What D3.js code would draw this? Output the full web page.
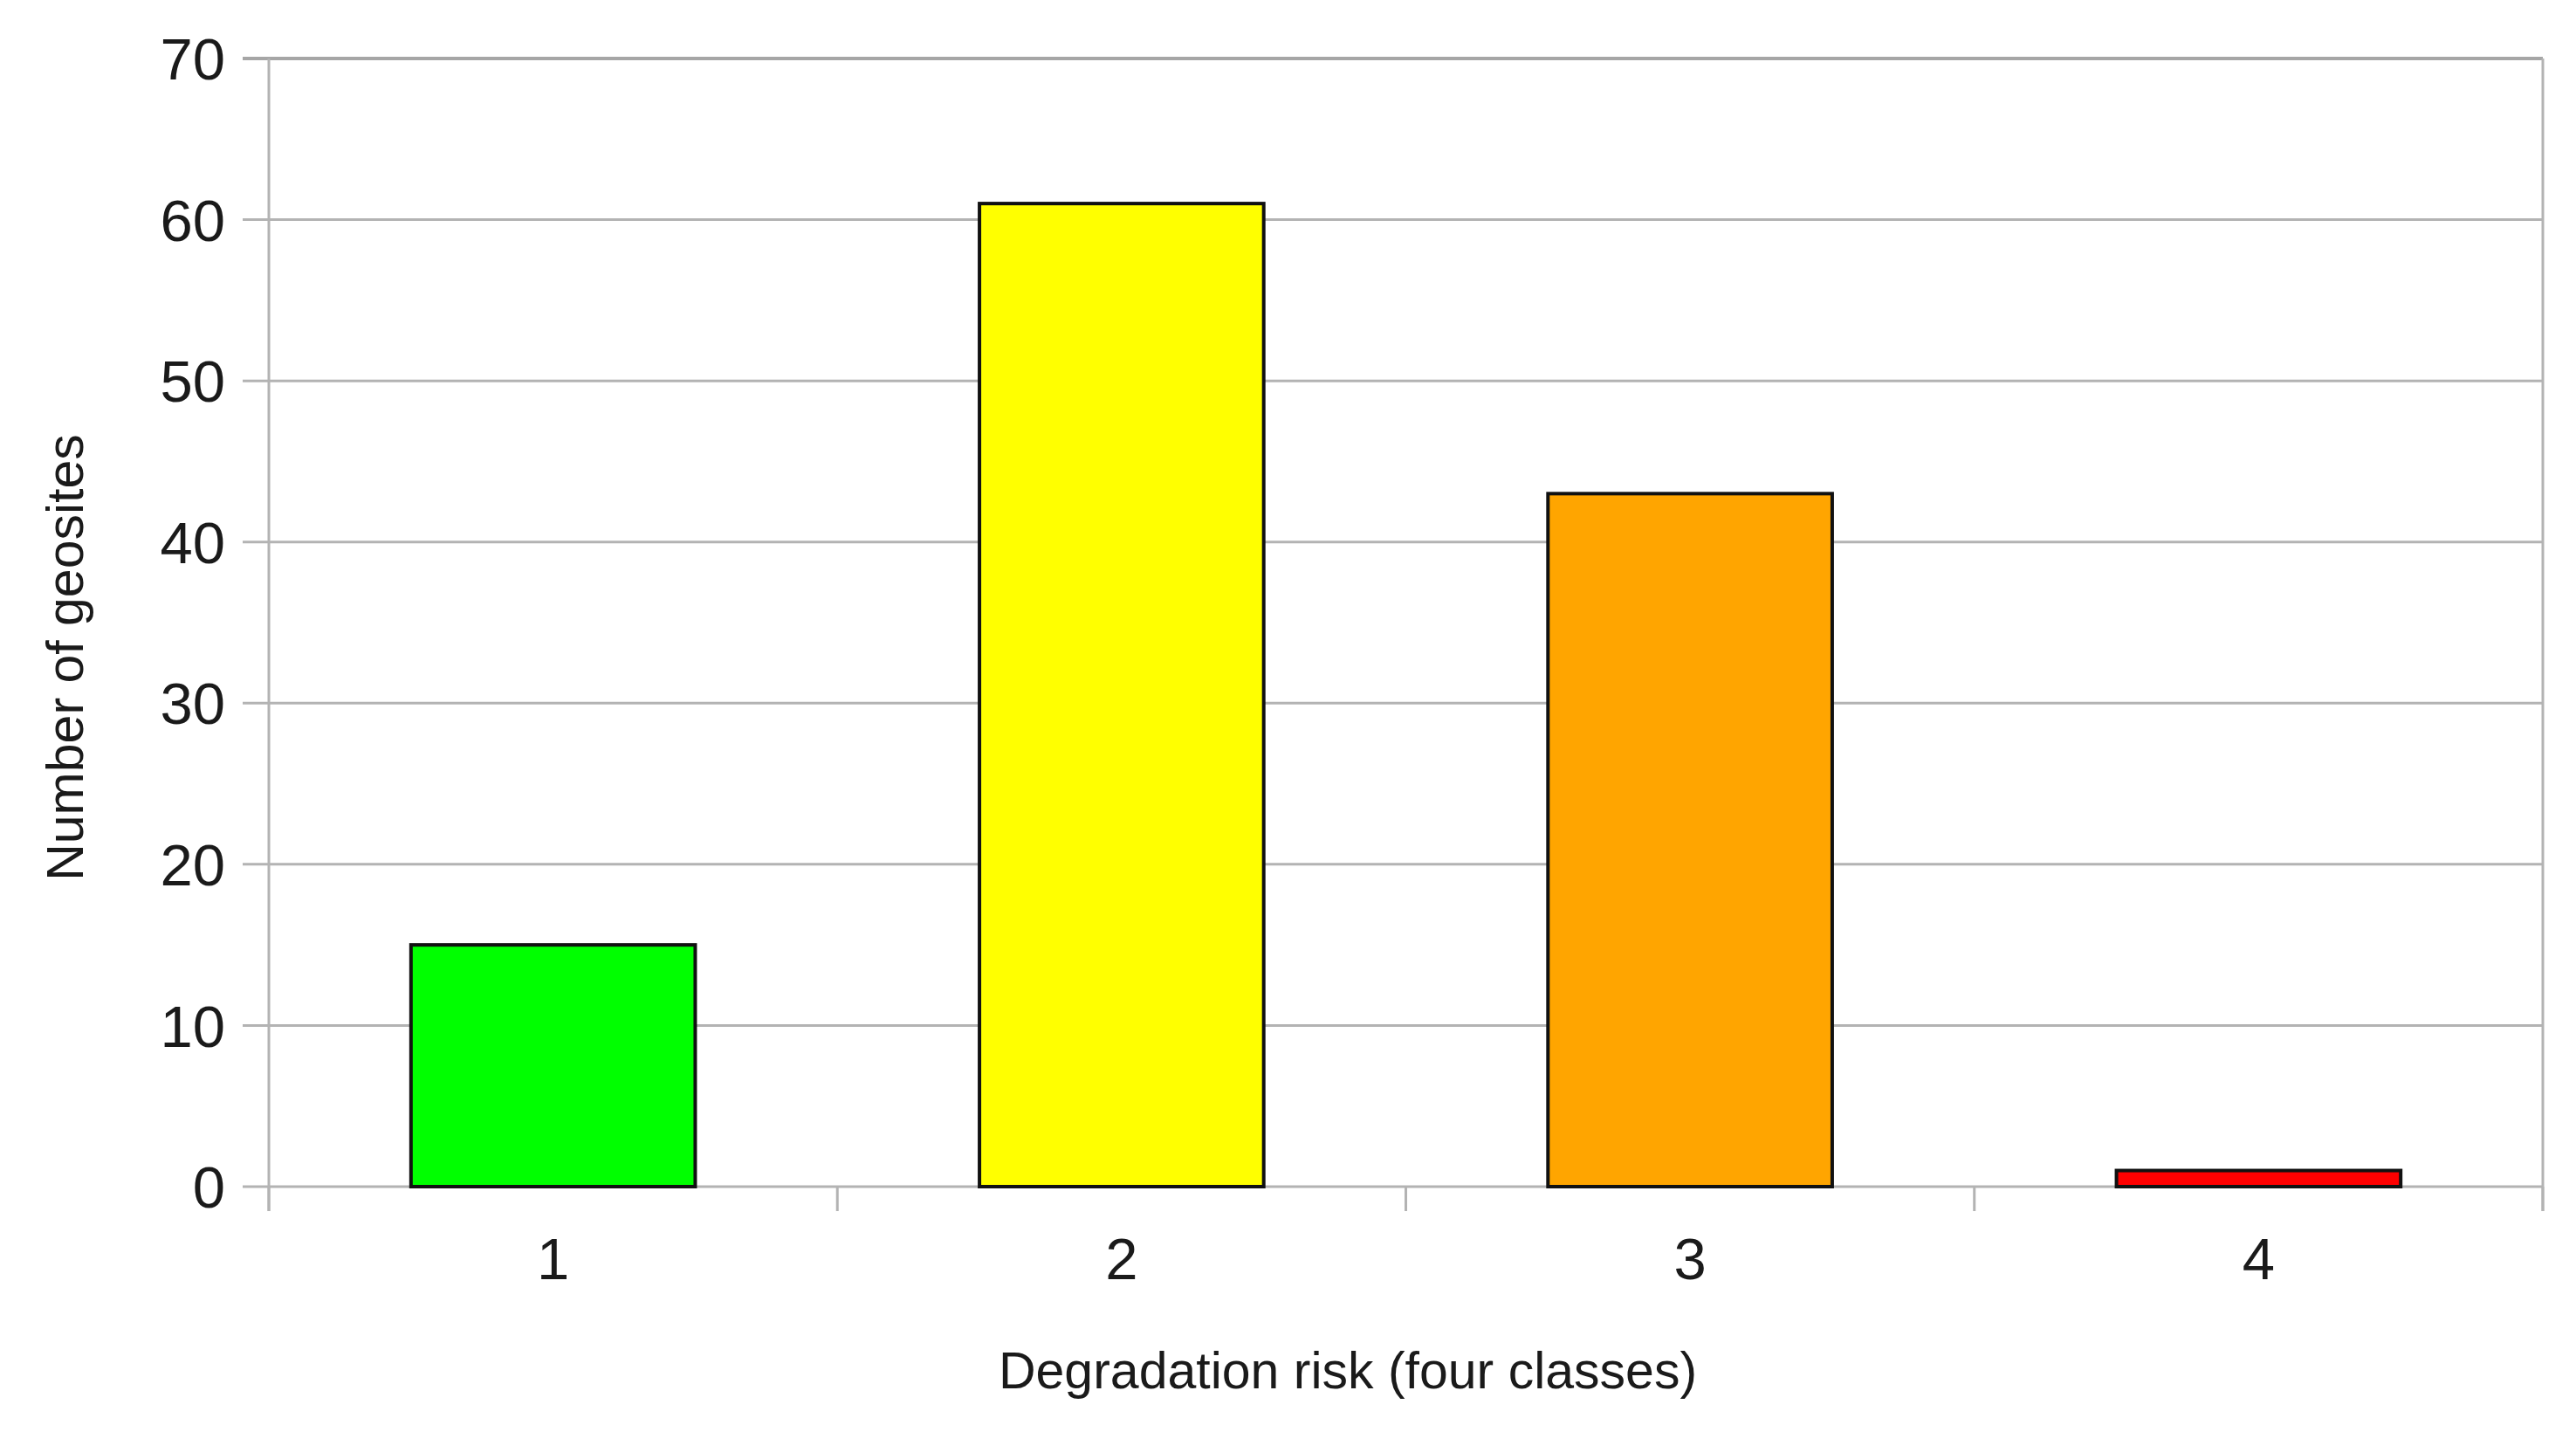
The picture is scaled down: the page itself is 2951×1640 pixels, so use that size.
<!DOCTYPE html>
<html><head><meta charset="utf-8">
<script src="https://cdn.jsdelivr.net/npm/d3@7"></script>
<style>html,body{margin:0;padding:0;background:#fff;}</style>
</head><body>
<script>
const categories = ["1", "2", "3", "4"];
const values = [15, 61, 43, 1];
const barColors = ["#00ff00", "#ffff00", "#ffa500", "#ff0000"];
const yTicks = [0, 10, 20, 30, 40, 50, 60, 70];
const xTitle = "Degradation risk (four classes)";
const yTitle = "Number of geosites";

const W = 2951, H = 1640;
const L = 308, R = 2913, T = 67, B = 1359;
const font = "'Liberation Sans', Arial, sans-serif";
const grid = "#b3b3b3";

const svg = d3.select("body").append("svg").attr("width", W).attr("height", H)
  .style("font-family", font);

const x = d3.scaleBand().domain(categories).range([L, R]).paddingInner(0.5).paddingOuter(0.25);
const y = d3.scaleLinear().domain([0, 70]).range([B, T]);

// gridlines
svg.append("g").selectAll("line").data(yTicks).join("line")
  .attr("x1", L - 30).attr("x2", R)
  .attr("y1", d => y(d)).attr("y2", d => y(d))
  .attr("stroke", d => d === 70 ? "#a6a6a6" : grid).attr("stroke-width", d => d === 70 ? 4 : 3);

// left and right axis lines
svg.append("line").attr("x1", L).attr("x2", L).attr("y1", T).attr("y2", B + 28)
  .attr("stroke", grid).attr("stroke-width", 3);
svg.append("line").attr("x1", R).attr("x2", R).attr("y1", T).attr("y2", B + 28)
  .attr("stroke", grid).attr("stroke-width", 3);

// x category boundary ticks
const step = x.step();
const bounds = d3.range(categories.length + 1).map(i => L + i * step);
svg.append("g").selectAll("line").data(bounds).join("line")
  .attr("x1", d => d).attr("x2", d => d).attr("y1", B).attr("y2", B + 28)
  .attr("stroke", grid).attr("stroke-width", 3);

// y tick labels
svg.append("g").selectAll("text").data(yTicks).join("text")
  .attr("x", 258).attr("y", d => y(d)).attr("dy", "0.36em")
  .attr("text-anchor", "end").attr("font-size", 67).attr("fill", "#1a1a1a")
  .text(d => d);

// bars
svg.append("g").selectAll("rect").data(values).join("rect")
  .attr("x", (d, i) => x(categories[i]))
  .attr("width", x.bandwidth())
  .attr("y", d => y(d))
  .attr("height", d => y(0) - y(d))
  .attr("fill", (d, i) => barColors[i])
  .attr("stroke", "#111").attr("stroke-width", 4);

// x labels
svg.append("g").selectAll("text").data(categories).join("text")
  .attr("x", d => x(d) + x.bandwidth() / 2).attr("y", 1465)
  .attr("text-anchor", "middle").attr("font-size", 67).attr("fill", "#1a1a1a")
  .text(d => d);

// titles
svg.append("text").attr("x", 1544).attr("y", 1590).attr("text-anchor", "middle")
  .attr("font-size", 59).attr("fill", "#1a1a1a").text(xTitle);
svg.append("text").attr("transform", "translate(95,753) rotate(-90)")
  .attr("text-anchor", "middle").attr("font-size", 59).attr("fill", "#1a1a1a").text(yTitle);
</script>
</body></html>
